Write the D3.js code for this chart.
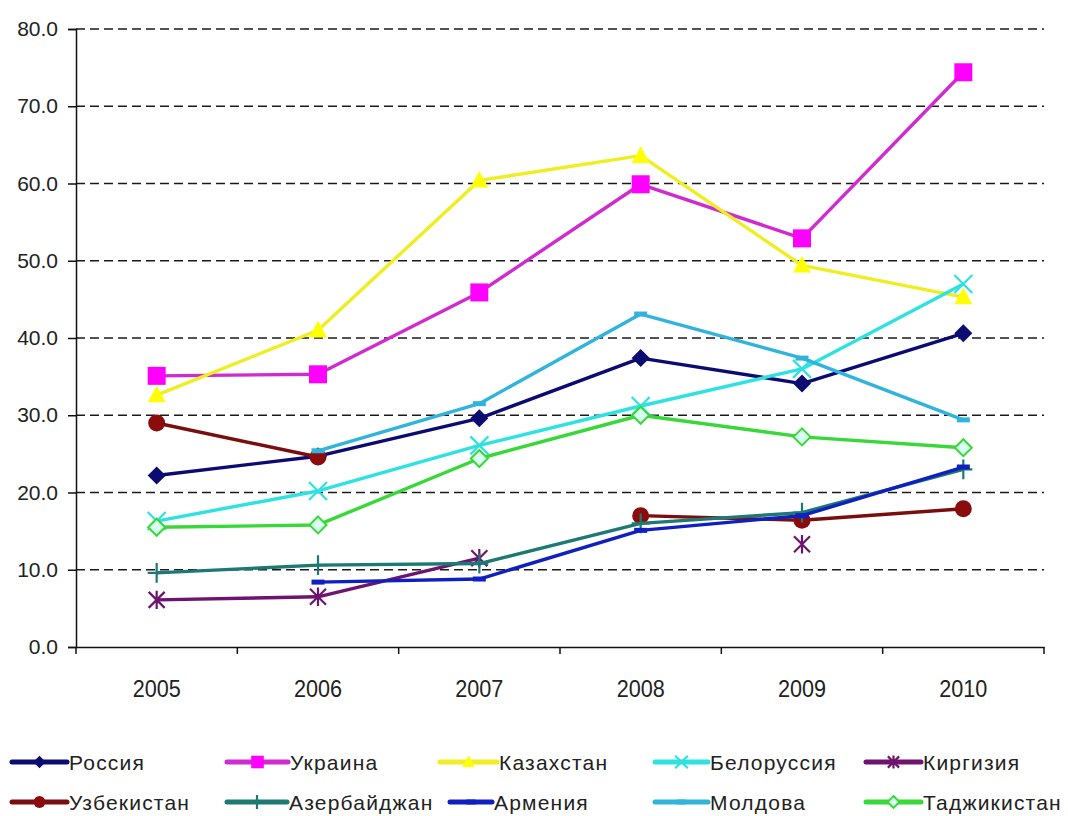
<!DOCTYPE html>
<html>
<head>
<meta charset="utf-8">
<script src="https://cdn.jsdelivr.net/npm/d3@7"></script>
<style>
  body { margin: 0; background: #fff; }
  svg { display: block; font-family: "Liberation Sans", Arial, sans-serif; }
</style>
</head>
<body>
<svg id="chart"></svg>
<script>
// data (null = no point)
var years = ["2005", "2006", "2007", "2008", "2009", "2010"];
var yTicks = [0, 10, 20, 30, 40, 50, 60, 70, 80];

var russia     = [22.2, 24.7, 29.6, 37.4, 34.1, 40.6];
var ukraine    = [35.1, 35.3, 45.9, 59.9, 52.9, 74.4];
var kazakhstan = [32.6, 41.0, 60.4, 63.6, 49.4, 45.3];
var belarus    = [16.3, 20.2, 26.1, 31.2, 36.0, 47.0];
var kyrgyzstan = [6.1, 6.5, 11.5, null, 13.3, null];
var uzbekistan = [29.0, 24.6, null, 17.0, 16.4, 17.9];
var azerbaijan = [9.6, 10.6, 10.8, 16.0, 17.4, 23.0];
var armenia    = [null, 8.4, 8.8, 15.1, 17.0, 23.3];
var moldova    = [null, 25.4, 31.5, 43.1, 37.4, 29.4];
var tajikistan = [15.5, 15.8, 24.4, 30.0, 27.2, 25.8];

var seriesNames = ["Россия", "Украина", "Казахстан", "Белоруссия", "Киргизия",
                   "Узбекистан", "Азербайджан", "Армения", "Молдова", "Таджикистан"];
var seriesValues = [russia, ukraine, kazakhstan, belarus, kyrgyzstan,
                    uzbekistan, azerbaijan, armenia, moldova, tajikistan];

// styles
var styles = [
  {line: "#0b0b72", fill: "#0b0b72", shape: "diamond"},
  {line: "#d02ad0", fill: "#ff00ff", shape: "square"},
  {line: "#eeee20", fill: "#ffff00", shape: "triangle"},
  {line: "#2ee2e2", fill: "#2ee2e2", shape: "cross"},
  {line: "#6e1470", fill: "#6e1470", shape: "asterisk"},
  {line: "#7a0e0e", fill: "#8a0c0c", shape: "circle"},
  {line: "#1c7a72", fill: "#1c7a72", shape: "plus"},
  {line: "#1020c0", fill: "#1020c0", shape: "dash"},
  {line: "#30b4dc", fill: "#30b4dc", shape: "dash"},
  {line: "#38d838", fill: "#d8fff0", shape: "hdiamond"}
];

var W = 1068, H = 816;
var margin = {left: 76, right: 24, top: 29, bottom: 169};

var svg = d3.select("#chart").attr("width", W).attr("height", H);
svg.append("rect").attr("width", W).attr("height", H).attr("fill", "#fff");

var x = d3.scaleBand().domain(years).range([margin.left, W - margin.right]);
var y = d3.scaleLinear().domain([0, 80]).range([H - margin.bottom, margin.top]);

// dashed gridlines
svg.append("g")
  .selectAll("line")
  .data(yTicks.filter(function(d){ return d > 0; }))
  .join("line")
  .attr("x1", margin.left).attr("x2", W - margin.right)
  .attr("y1", function(d){ return y(d); }).attr("y2", function(d){ return y(d); })
  .attr("stroke", "#1a1a1a")
  .attr("stroke-width", 1.6)
  .attr("stroke-dasharray", "9,5");

// y axis
var gY = svg.append("g")
  .attr("transform", "translate(" + margin.left + ",0)")
  .call(d3.axisLeft(y).tickValues(yTicks).tickFormat(d3.format(".1f")).tickSize(8).tickPadding(10));
gY.select(".domain").attr("stroke", "#111").attr("stroke-width", 1.5);
gY.selectAll(".tick line").attr("stroke", "#111").attr("stroke-width", 1.5);
gY.selectAll(".tick text").attr("font-size", 21).attr("fill", "#222")
  .attr("font-family", "Liberation Sans, Arial, sans-serif");

// x axis, ticks between categories
var gX = svg.append("g")
  .attr("transform", "translate(0," + y(0) + ")")
  .call(d3.axisBottom(x).tickSize(0).tickPadding(33));
gX.select(".domain").attr("stroke", "#111").attr("stroke-width", 1.5);
gX.selectAll(".tick text").attr("font-size", 24).attr("fill", "#222")
  .attr("transform", "scale(0.9,1)")
  .attr("font-family", "Liberation Sans, Arial, sans-serif");
var bounds = years.map(function(d){ return x(d); }).concat([x(years[years.length - 1]) + x.bandwidth()]);
gX.append("g").selectAll("line")
  .data(bounds)
  .join("line")
  .attr("x1", function(d){ return d; }).attr("x2", function(d){ return d; })
  .attr("y1", 0).attr("y2", 7)
  .attr("stroke", "#111").attr("stroke-width", 1.5);

function markerPath(shape, s) {
  var p = d3.path();
  if (shape === "diamond" || shape === "hdiamond") {
    p.moveTo(0, -s); p.lineTo(s, 0); p.lineTo(0, s); p.lineTo(-s, 0); p.closePath();
  } else if (shape === "square") {
    p.rect(-s, -s, 2 * s, 2 * s);
  } else if (shape === "triangle") {
    p.moveTo(0, -s * 1.05); p.lineTo(s, s * 0.8); p.lineTo(-s, s * 0.8); p.closePath();
  } else if (shape === "circle") {
    p.arc(0, 0, s, 0, 2 * Math.PI);
  } else if (shape === "cross") {
    p.moveTo(-s, -s); p.lineTo(s, s); p.moveTo(-s, s); p.lineTo(s, -s);
  } else if (shape === "asterisk") {
    p.moveTo(-s, -s); p.lineTo(s, s); p.moveTo(-s, s); p.lineTo(s, -s);
    p.moveTo(0, -s * 1.15); p.lineTo(0, s * 1.15);
  } else if (shape === "plus") {
    p.moveTo(-s, 0); p.lineTo(s, 0); p.moveTo(0, -s * 1.1); p.lineTo(0, s * 1.1);
  } else if (shape === "dash") {
    p.rect(-s, -2.5, 2 * s, 5);
  }
  return p.toString();
}

function drawMarker(g, st, s) {
  var open = st.shape === "cross" || st.shape === "asterisk" || st.shape === "plus";
  g.append("path")
    .attr("d", markerPath(st.shape, s))
    .attr("fill", open ? "none" : st.fill)
    .attr("stroke", open ? st.fill : (st.shape === "hdiamond" ? st.line : "none"))
    .attr("stroke-width", open ? 2.2 : 2);
}

var line = d3.line()
  .defined(function(d){ return d != null; })
  .x(function(d, i){ return x(years[i]) + x.bandwidth() / 2; })
  .y(function(d){ return y(d); });

var markerSize = {diamond: 9, square: 9, triangle: 9, cross: 9, asterisk: 8,
                  circle: 8.5, plus: 9, dash: 6.5, hdiamond: 8.5};

seriesValues.forEach(function(vals, k) {
  var st = styles[k];
  var g = svg.append("g").attr("class", "series");
  g.append("path")
    .attr("d", line(vals))
    .attr("fill", "none")
    .attr("stroke", st.line)
    .attr("stroke-width", 3.4)
    .attr("stroke-linejoin", "round");
  vals.forEach(function(v, i) {
    if (v == null) return;
    var m = g.append("g")
      .attr("transform", "translate(" + (x(years[i]) + x.bandwidth() / 2) + "," + y(v) + ")");
    drawMarker(m, st, markerSize[st.shape]);
  });
});

// legend, two rows of five
var legendX = [[12, 227, 440, 655, 866], [12, 227, 450, 655, 866]];
var legendLen = [[55, 61, 57, 53, 55], [55, 60, 42, 53, 55]];
var legendY = [762, 802];
seriesNames.forEach(function(name, k) {
  var r = Math.floor(k / 5), c = k % 5;
  var st = styles[k];
  var x0 = legendX[r][c], len = legendLen[r][c];
  var g = svg.append("g").attr("transform", "translate(" + x0 + "," + legendY[r] + ")");
  g.append("line").attr("x1", 0).attr("x2", len).attr("y1", 0).attr("y2", 0)
    .attr("stroke", st.line).attr("stroke-width", 5).attr("stroke-linecap", "round");
  var m = g.append("g").attr("transform", "translate(" + (len / 2) + ",0)");
  drawMarker(m, st, markerSize[st.shape] * 0.7);
  g.append("text")
    .attr("x", len + 2).attr("y", 0).attr("dy", "0.36em")
    .attr("font-size", 21).attr("letter-spacing", 1.2)
    .attr("fill", "#222")
    .text(name);
});
</script>
</body>
</html>
